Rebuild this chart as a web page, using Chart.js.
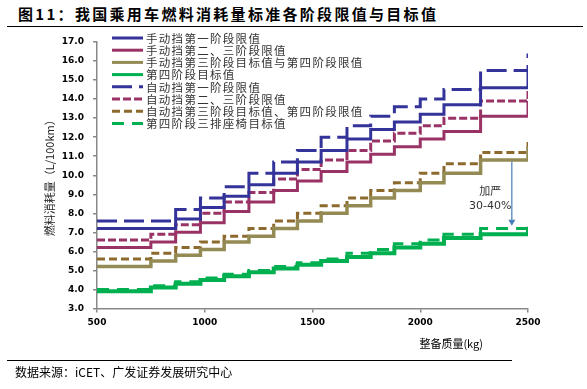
<!DOCTYPE html>
<html>
<head>
<meta charset="utf-8">
<script src="https://cdn.jsdelivr.net/npm/chart.js@4.4.1/dist/chart.umd.min.js"></script>
<style>
  body { margin: 0; background: #fff; }
  #page { position: relative; width: 587px; height: 389px; overflow: hidden; font-family: "Noto Sans CJK SC", sans-serif; color: #000; }
  #title { position: absolute; left: 18px; top: 3px; font-size: 15px; font-weight: bold; letter-spacing: 2.3px; white-space: nowrap; }
  .rule { position: absolute; height: 0; border-top: 1.6px solid #000; }
  #ruleTop { left: 7px; top: 26px; width: 576px; }
  #ruleBottom { left: 7px; top: 360px; width: 505px; }
  #xTitle { position: absolute; right: 104px; top: 335px; font-size: 11px; white-space: nowrap; }
  #source { position: absolute; left: 15px; top: 363px; font-size: 12px; white-space: nowrap; }
  #chartBox { position: absolute; left: 0; top: 0; }
</style>
</head>
<body>
<div id="page">
  <div id="title">图11：我国乘用车燃料消耗量标准各阶段限值与目标值</div>
  <div class="rule" id="ruleTop"></div>
  <canvas id="chartBox" width="587" height="389"></canvas>
  <div id="xTitle">整备质量(kg)</div>
  <div class="rule" id="ruleBottom"></div>
  <div id="source">数据来源：iCET、广发证券发展研究中心</div>
</div>
<script>
// mass bracket starts (kg), last one is the axis end
const massBreaks = [500, 750, 865, 980, 1090, 1205, 1320, 1430, 1540, 1660, 1770, 1880, 2000, 2110, 2280, 2500];

// L/100km for each bracket, last value is the step at the right edge
const manualStage1 = [7.2, 7.2, 7.7, 8.3, 8.9, 9.5, 10.1, 10.7, 11.3, 11.9, 12.4, 12.8, 13.2, 13.7, 14.6, 15.5];
const manualStage23 = [6.2, 6.5, 7.0, 7.5, 8.1, 8.6, 9.2, 9.7, 10.2, 10.7, 11.1, 11.5, 11.9, 12.3, 13.1, 13.9];
const manualStage3 = [5.2, 5.5, 5.8, 6.1, 6.5, 6.8, 7.2, 7.6, 8.0, 8.4, 8.8, 9.2, 9.6, 10.1, 10.8, 11.5];
const stage4Target = [3.9, 4.1, 4.3, 4.5, 4.7, 4.9, 5.1, 5.3, 5.5, 5.7, 5.9, 6.2, 6.4, 6.7, 6.9, 7.3];
const autoStage1 = [7.6, 7.6, 8.2, 8.8, 9.4, 10.1, 10.7, 11.3, 12.0, 12.6, 13.1, 13.6, 14.0, 14.5, 15.5, 16.4];
const autoStage23 = [6.6, 6.9, 7.4, 8.0, 8.6, 9.1, 9.8, 10.3, 10.8, 11.3, 11.8, 12.2, 12.6, 13.0, 13.9, 14.7];
const autoStage3 = [5.6, 5.9, 6.2, 6.5, 6.8, 7.2, 7.6, 8.0, 8.4, 8.8, 9.2, 9.6, 10.1, 10.6, 11.2, 11.9];
const stage4ThreeRow = [4.0, 4.2, 4.4, 4.6, 4.8, 5.0, 5.2, 5.4, 5.6, 5.9, 6.1, 6.4, 6.6, 6.9, 7.2, 7.5];

const seriesLabels = [
  '手动挡第一阶段限值',
  '手动挡第二、三阶段限值',
  '手动挡第三阶段目标值与第四阶段限值',
  '第四阶段目标值',
  '自动挡第一阶段限值',
  '自动挡第二、三阶段限值',
  '自动挡第三阶段目标值、第四阶段限值',
  '第四阶段三排座椅目标值'
];

const yTicks = [3, 4, 5, 6, 7, 8, 9, 10, 11, 12, 13, 14, 15, 16, 17];
const xTicks = [500, 1000, 1500, 2000, 2500];

// arrow note between stage 3 and stage 4 lines
const noteMass = 2425;
const noteFrom = 10.72;
const noteTo = 7.35;
const noteText = ['加严', '30-40%'];

const toPoints = (values) => values.map((v, i) => ({ x: massBreaks[i], y: v }));

const lineStyle = (label, values, color, width, dash) => ({
  label: label,
  data: toPoints(values),
  borderColor: color,
  backgroundColor: color,
  borderWidth: width,
  borderDash: dash,
  borderCapStyle: 'butt',
  borderJoinStyle: 'miter',
  stepped: true,
  pointRadius: 0,
  fill: false
});

const datasets = [
  lineStyle(seriesLabels[0], manualStage1, '#333399', 3, []),
  lineStyle(seriesLabels[1], manualStage23, '#993366', 3, []),
  lineStyle(seriesLabels[2], manualStage3, '#948A54', 3.5, []),
  lineStyle(seriesLabels[3], stage4Target, '#00B050', 4, []),
  lineStyle(seriesLabels[4], autoStage1, '#333399', 3, [20, 7]),
  lineStyle(seriesLabels[5], autoStage23, '#993366', 3, [8, 3]),
  lineStyle(seriesLabels[6], autoStage3, '#8C6A2E', 3, [8, 4]),
  lineStyle(seriesLabels[7], stage4ThreeRow, '#00B050', 3, [12, 8])
];

// legend drawn inside the plot, top left
const legendBox = {
  id: 'legendBox',
  afterDraw(chart) {
    const ctx = chart.ctx;
    ctx.save();
    ctx.font = '11.5px "Noto Sans CJK SC", sans-serif';
    ctx.letterSpacing = '1.3px';
    ctx.textBaseline = 'middle';
    chart.data.datasets.forEach((ds, i) => {
      const y = 38 + i * 12.2;
      ctx.beginPath();
      ctx.setLineDash(ds.borderDash);
      ctx.lineWidth = 3;
      ctx.strokeStyle = ds.borderColor;
      ctx.moveTo(112, y);
      ctx.lineTo(143, y);
      ctx.stroke();
      ctx.setLineDash([]);
      ctx.fillStyle = '#333';
      ctx.fillText(ds.label, 146, y + 0.5);
    });
    ctx.restore();
  }
};

const arrowNote = {
  id: 'arrowNote',
  afterDatasetsDraw(chart) {
    const ctx = chart.ctx;
    const xs = chart.scales.x, ys = chart.scales.y;
    const x = xs.getPixelForValue(noteMass);
    const y1 = ys.getPixelForValue(noteFrom);
    const y2 = ys.getPixelForValue(noteTo);
    ctx.save();
    ctx.strokeStyle = '#4A7EBB';
    ctx.fillStyle = '#4A7EBB';
    ctx.lineWidth = 1.2;
    ctx.beginPath();
    ctx.moveTo(x, y1);
    ctx.lineTo(x, y2 - 5);
    ctx.stroke();
    ctx.beginPath();
    ctx.moveTo(x - 3.5, y2 - 6);
    ctx.lineTo(x + 3.5, y2 - 6);
    ctx.lineTo(x, y2);
    ctx.closePath();
    ctx.fill();
    ctx.fillStyle = '#333';
    ctx.textAlign = 'center';
    ctx.textBaseline = 'middle';
    const tx = xs.getPixelForValue(2325);
    ctx.font = '11px "Noto Sans CJK SC", sans-serif';
    ctx.fillText(noteText[0], tx, ys.getPixelForValue(9.17));
    ctx.font = '11px "DejaVu Sans", sans-serif';
    ctx.fillText(noteText[1], tx, ys.getPixelForValue(8.38));
    ctx.restore();
  }
};

const tickFont = { family: 'DejaVu Sans', size: 9, weight: 'bold' };

new Chart('chartBox', {
  type: 'line',
  data: { datasets: datasets },
  options: {
    responsive: false,
    animation: false,
    devicePixelRatio: 1,
    layout: { padding: { left: 40, top: 42, right: 59, bottom: 50.5 } },
    plugins: {
      legend: { display: false },
      tooltip: { enabled: false }
    },
    scales: {
      x: {
        type: 'linear',
        min: 500,
        max: 2500,
        afterBuildTicks: (scale) => { scale.ticks = xTicks.map(v => ({ value: v })); },
        afterFit: (scale) => { scale.height = 30; },
        border: { color: '#888', width: 1.5 },
        grid: { drawOnChartArea: false, tickLength: 4, color: '#888', lineWidth: 1.5 },
        ticks: { color: '#000', font: tickFont, padding: 5, maxRotation: 0, callback: (v) => String(v) }
      },
      y: {
        type: 'linear',
        min: 3,
        max: 17,
        afterBuildTicks: (scale) => { scale.ticks = yTicks.map(v => ({ value: v })); },
        afterFit: (scale) => { scale.width = 57; },
        border: { color: '#888', width: 1.5 },
        grid: { drawOnChartArea: false, tickLength: 4, color: '#888', lineWidth: 1.5 },
        ticks: {
          color: '#000',
          font: tickFont,
          padding: 9,
          callback: (v) => Number(v).toFixed(1)
        },
        title: {
          display: true,
          text: '燃料消耗量（L/100km）',
          color: '#222',
          font: { family: 'Noto Sans CJK SC', size: 11 },
          padding: { top: 3, bottom: 0 }
        }
      }
    }
  },
  plugins: [legendBox, arrowNote]
});
</script>
</body>
</html>
